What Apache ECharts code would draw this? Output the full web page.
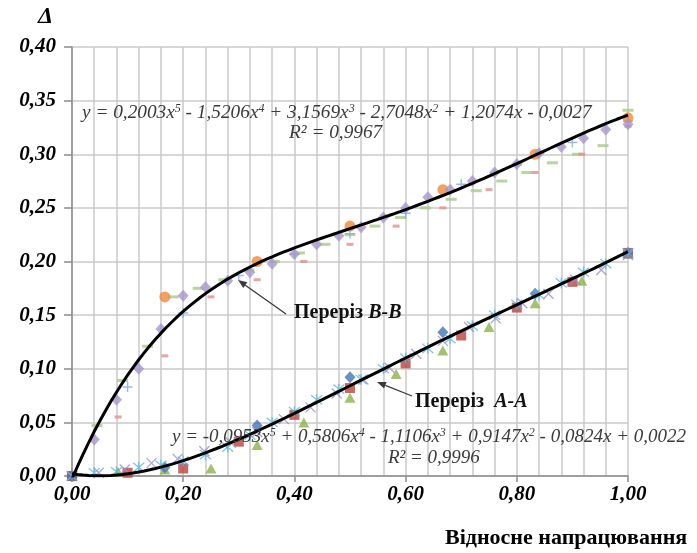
<!DOCTYPE html>
<html>
<head>
<meta charset="utf-8">
<script src="https://cdn.jsdelivr.net/npm/echarts@6/dist/echarts.min.js"></script>
<style>
  html, body { margin: 0; padding: 0; background: #fff; }
  #chart { width: 697px; height: 553px; }
</style>
</head>
<body>
<div id="chart"></div>
<script>
// Переріз B-B
const bbDiamondX = [0, 0.04, 0.08, 0.12, 0.16, 0.20, 0.24, 0.28, 0.32, 0.36, 0.40, 0.44, 0.48, 0.52, 0.56, 0.60, 0.64, 0.68, 0.72, 0.76, 0.80, 0.84, 0.88, 0.92, 0.96, 1.00];
const bbDiamondY = [0, 0.034, 0.071, 0.100, 0.137, 0.168, 0.176, 0.182, 0.190, 0.198, 0.207, 0.216, 0.224, 0.232, 0.241, 0.250, 0.260, 0.267, 0.275, 0.283, 0.291, 0.301, 0.307, 0.315, 0.323, 0.328];
const bbCircleX = [0, 0.167, 0.333, 0.5, 0.667, 0.833, 1];
const bbCircleY = [0, 0.167, 0.200, 0.233, 0.267, 0.300, 0.334];
const bbGreenX = [0, 0.045, 0.091, 0.136, 0.182, 0.227, 0.273, 0.318, 0.364, 0.409, 0.455, 0.5, 0.545, 0.591, 0.636, 0.682, 0.727, 0.773, 0.818, 0.864, 0.909, 0.955, 1];
const bbGreenY = [0, 0.047, 0.089, 0.121, 0.167, 0.175, 0.183, 0.192, 0.200, 0.208, 0.216, 0.225, 0.233, 0.241, 0.250, 0.258, 0.266, 0.275, 0.283, 0.292, 0.300, 0.308, 0.341];
const bbRedX = [0, 0.083, 0.167, 0.25, 0.333, 0.417, 0.5, 0.583, 0.667, 0.75, 0.833, 0.917, 1];
const bbRedY = [0, 0.055, 0.112, 0.167, 0.183, 0.200, 0.216, 0.233, 0.250, 0.267, 0.283, 0.300, 0.326];
const bbPlusX = [0, 0.1, 0.2, 0.3, 0.4, 0.5, 0.6, 0.7, 0.8, 0.9, 1];
const bbPlusY = [0, 0.083, 0.152, 0.187, 0.207, 0.226, 0.245, 0.272, 0.290, 0.311, 0.331];

// Переріз A-A
const aaDiamondX = [0, 0.167, 0.333, 0.5, 0.667, 0.833, 1];
const aaDiamondY = [0, 0.008, 0.047, 0.092, 0.134, 0.170, 0.208];
const aaSquareX = [0, 0.1, 0.2, 0.3, 0.4, 0.5, 0.6, 0.7, 0.8, 0.9, 1];
const aaSquareY = [0, 0.003, 0.007, 0.032, 0.057, 0.082, 0.105, 0.131, 0.157, 0.181, 0.208];
const aaTriX = [0, 0.083, 0.167, 0.25, 0.333, 0.417, 0.5, 0.583, 0.667, 0.75, 0.833, 0.917, 1];
const aaTriY = [0, 0.004, 0.006, 0.007, 0.029, 0.050, 0.073, 0.095, 0.117, 0.139, 0.161, 0.182, 0.207];
const aaStarX = [0, 0.04, 0.08, 0.12, 0.16, 0.20, 0.24, 0.28, 0.32, 0.36, 0.40, 0.44, 0.48, 0.52, 0.56, 0.60, 0.64, 0.68, 0.72, 0.76, 0.80, 0.84, 0.88, 0.92, 0.96, 1.00];
const aaStarY = [0, 0.003, 0.004, 0.008, 0.010, 0.014, 0.020, 0.027, 0.038, 0.050, 0.060, 0.071, 0.081, 0.090, 0.100, 0.110, 0.119, 0.128, 0.140, 0.150, 0.160, 0.169, 0.180, 0.190, 0.198, 0.208];
const aaCrossX = [0, 0.048, 0.095, 0.143, 0.190, 0.238, 0.286, 0.333, 0.381, 0.429, 0.476, 0.524, 0.571, 0.619, 0.667, 0.714, 0.762, 0.810, 0.857, 0.905, 0.952, 1];
const aaCrossY = [0, 0.003, 0.006, 0.012, 0.016, 0.023, 0.031, 0.041, 0.053, 0.064, 0.077, 0.090, 0.101, 0.114, 0.126, 0.139, 0.147, 0.161, 0.170, 0.183, 0.192, 0.206];

// поліноміальні лінії тренду (коефіцієнти з рівнянь на графіку, від x^5 до x^0)
const bbCoef = [0.2003, -1.5206, 3.1569, -2.7048, 1.2074, -0.0027];
const aaCoef = [-0.0953, 0.5806, -1.1106, 0.9147, -0.0824, 0.0022];

const serif = '"Liberation Serif", "DejaVu Serif", serif';

function pairs(xs, ys) {
  return xs.map((x, i) => [x, ys[i]]);
}

function trend(coef) {
  const pts = [];
  for (let i = 0; i <= 100; i++) {
    const x = i / 100;
    let y = 0;
    coef.forEach(c => { y = y * x + c; });
    pts.push([x, y]);
  }
  return pts;
}

function fmt(v) {
  return v.toFixed(2).replace('.', ',');
}

function arrow(x1, y1, x2, y2) {
  // line from label (x1,y1) to tip (x2,y2)
  const dx = x2 - x1, dy = y2 - y1;
  const len = Math.sqrt(dx * dx + dy * dy);
  const ux = dx / len, uy = dy / len;
  const bx = x2 - ux * 9, by = y2 - uy * 9;
  const px = -uy * 3.5, py = ux * 3.5;
  return [
    { type: 'line', shape: { x1: x1, y1: y1, x2: bx, y2: by }, style: { stroke: '#3a3a3a', lineWidth: 1.3 }, z: 10 },
    { type: 'polygon', shape: { points: [[x2, y2], [bx + px, by + py], [bx - px, by - py]] }, style: { fill: '#3a3a3a' }, z: 10 }
  ];
}

const supStyle = { fontSize: 12, verticalAlign: 'top', fontStyle: 'italic', fontFamily: serif, fill: '#3a3a3a' };
const boldItalic = { fontStyle: 'italic', fontWeight: 'bold', fontSize: 20, fontFamily: serif, fill: '#111' };

let chart = echarts.init(document.getElementById('chart'));

const axisFont = {
  formatter: fmt,
  fontFamily: serif,
  fontStyle: 'italic',
  fontWeight: 'bold',
  fontSize: 21,
  color: '#000'
};

const option = {
  backgroundColor: '#fff',
  animation: false,
  grid: { left: 72, right: 69, top: 47, bottom: 77 },
  xAxis: {
    type: 'value',
    min: 0,
    max: 1,
    interval: 0.2,
    axisLine: { show: true, lineStyle: { color: '#8c8c8c', width: 1.5 } },
    axisTick: { show: true, length: 6, lineStyle: { color: '#8c8c8c', width: 1.5 } },
    axisLabel: Object.assign({ margin: 8 }, axisFont),
    splitLine: { show: true, lineStyle: { color: '#cacaca', width: 1.5 } },
    minorTick: { show: false, splitNumber: 5 },
    minorSplitLine: { show: true, lineStyle: { color: '#cacaca', width: 1.5 } }
  },
  yAxis: {
    type: 'value',
    min: 0,
    max: 0.4,
    interval: 0.05,
    axisLine: { show: true, lineStyle: { color: '#8c8c8c', width: 1.5 } },
    axisTick: { show: true, length: 8, lineStyle: { color: '#8c8c8c', width: 1.5 } },
    axisLabel: Object.assign({ margin: 16 }, axisFont),
    splitLine: { show: true, lineStyle: { color: '#cacaca', width: 1.5 } }
  },
  series: [
    { type: 'scatter', data: pairs(bbGreenX, bbGreenY), symbol: 'rect', symbolSize: [11, 3], itemStyle: { color: '#a8c98a' } },
    { type: 'scatter', data: pairs(bbRedX, bbRedY), symbol: 'rect', symbolSize: [7, 3], itemStyle: { color: '#e0908a' } },
    { type: 'scatter', data: pairs(bbPlusX, bbPlusY), symbol: 'path://M5,0L5,10M0,5L10,5', symbolSize: 10,
      itemStyle: { color: 'none', borderColor: '#7ea9dc', borderWidth: 1.4 } },
    { type: 'scatter', data: pairs(bbCircleX, bbCircleY), symbol: 'circle', symbolSize: 11, itemStyle: { color: '#ec8a3c' } },
    { type: 'scatter', data: pairs(bbDiamondX, bbDiamondY), symbol: 'diamond', symbolSize: [11, 12], itemStyle: { color: '#a696c9' } },

    { type: 'scatter', data: pairs(aaTriX, aaTriY), symbol: 'triangle', symbolSize: [11, 10], itemStyle: { color: '#8cb14c' } },
    { type: 'scatter', data: pairs(aaSquareX, aaSquareY), symbol: 'rect', symbolSize: [10, 10], itemStyle: { color: '#b8433d' } },
    { type: 'scatter', data: pairs(aaDiamondX, aaDiamondY), symbol: 'diamond', symbolSize: [11, 12], itemStyle: { color: '#4673b1' } },
    { type: 'scatter', data: pairs(aaCrossX, aaCrossY), symbol: 'path://M0,0L10,10M0,10L10,0', symbolSize: 10,
      itemStyle: { color: 'none', borderColor: '#9d8ac8', borderWidth: 1.3 } },
    { type: 'scatter', data: pairs(aaStarX, aaStarY), symbol: 'path://M6,0L6,12M1,1L11,11M1,11L11,1', symbolSize: 11,
      itemStyle: { color: 'none', borderColor: '#5cb6dc', borderWidth: 1.3 } },

    { type: 'line', data: trend(bbCoef), showSymbol: false, smooth: false, z: 5,
      lineStyle: { color: '#000', width: 3 } },
    { type: 'line', data: trend(aaCoef), showSymbol: false, smooth: false, z: 5,
      lineStyle: { color: '#000', width: 3 } }
  ],
  graphic: [
    { type: 'text', left: 38, top: 5, z: 10,
      style: { text: 'Δ', font: 'italic bold 24px ' + serif, fill: '#000' } },
    { type: 'text', left: 445, top: 527, z: 10,
      style: { text: 'Відносне напрацювання', font: 'bold 22px ' + serif, fill: '#000' } },
    { type: 'text', left: 82, top: 103, z: 10,
      style: {
        text: 'y = 0,2003x{s|5} - 1,5206x{s|4} + 3,1569x{s|3} - 2,7048x{s|2} + 1,2074x - 0,0027',
        font: 'italic 19.3px ' + serif, fill: '#3a3a3a', rich: { s: supStyle }
      } },
    { type: 'text', left: 289, top: 123, z: 10,
      style: { text: 'R² = 0,9967', font: 'italic 19.3px ' + serif, fill: '#3a3a3a' } },
    { type: 'text', left: 172, top: 427, z: 10,
      style: {
        text: 'y = -0,0953x{s|5} + 0,5806x{s|4} - 1,1106x{s|3} + 0,9147x{s|2} - 0,0824x + 0,0022',
        font: 'italic 19px ' + serif, fill: '#3a3a3a', rich: { s: supStyle }
      } },
    { type: 'text', left: 388, top: 448, z: 10,
      style: { text: 'R² = 0,9996', font: 'italic 19px ' + serif, fill: '#3a3a3a' } },
    { type: 'text', left: 294, top: 303, z: 10,
      style: { text: 'Переріз {i|B-B}', font: 'bold 20px ' + serif, fill: '#111', rich: { i: boldItalic } } },
    { type: 'text', left: 415, top: 392, z: 10,
      style: { text: 'Переріз  {i|A-A}', font: 'bold 20px ' + serif, fill: '#111', rich: { i: boldItalic } } }
  ].concat(arrow(286, 314, 238, 280), arrow(412, 396, 377, 382))
};

chart.setOption(option);
</script>
</body>
</html>
